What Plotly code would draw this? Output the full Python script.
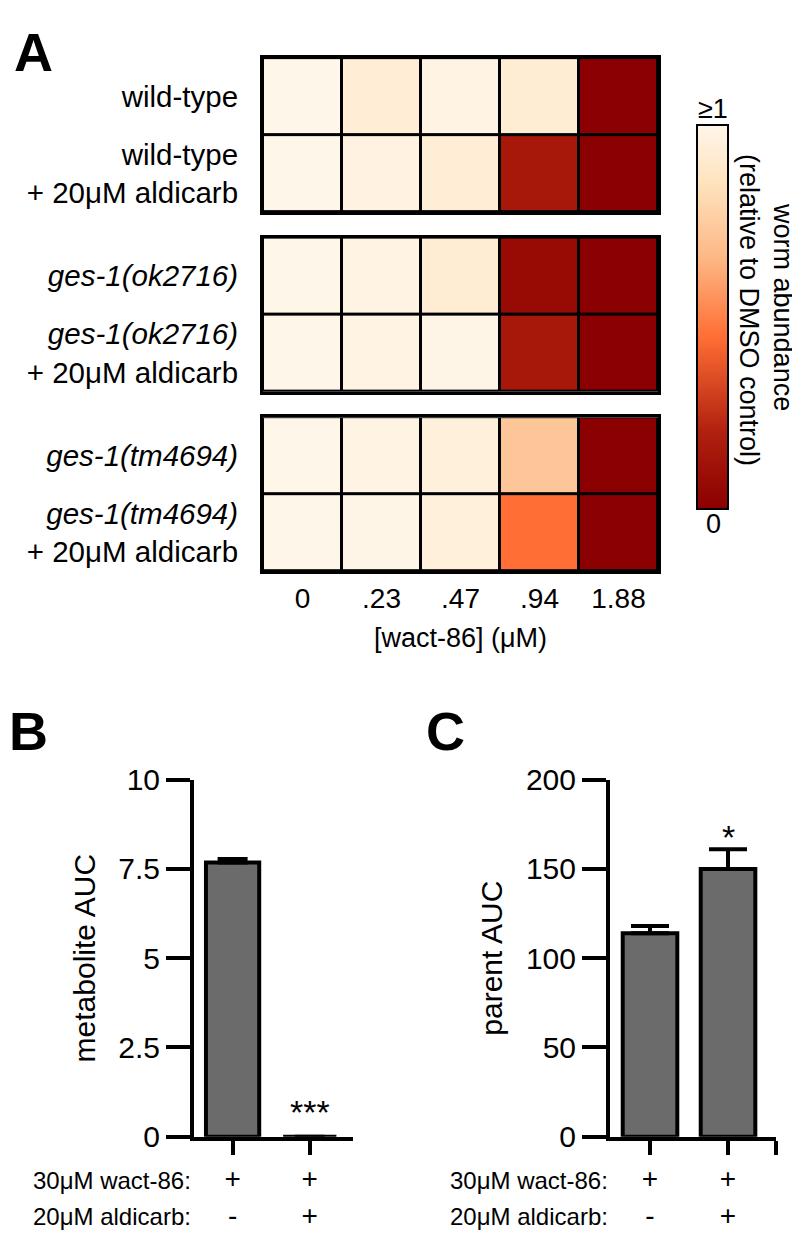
import plotly.graph_objects as go

# ---------------- data ----------------
concentrations = ["0", ".23", ".47", ".94", "1.88"]

group1_labels = ["wild-type", "wild-type<br>+ 20μM aldicarb"]
group2_labels = ["<i>ges-1(ok2716)</i>", "<i>ges-1(ok2716)</i><br>+ 20μM aldicarb"]
group3_labels = ["<i>ges-1(tm4694)</i>", "<i>ges-1(tm4694)</i><br>+ 20μM aldicarb"]

abundance_wt = [[1.00, 0.93, 0.98, 0.92, 0.00],
                [1.00, 0.97, 0.93, 0.15, 0.00]]
abundance_ok2716 = [[1.00, 0.98, 0.92, 0.07, 0.00],
                    [1.00, 0.98, 0.99, 0.15, 0.00]]
abundance_tm4694 = [[1.00, 0.98, 0.95, 0.72, 0.00],
                    [1.00, 0.99, 0.95, 0.45, 0.00]]

conditions = ["+<br>-", "+<br>+"]
metabolite_auc = [7.68, 0.0]
metabolite_sem = [0.10, 0.0]
parent_auc = [114.0, 150.0]
parent_sem = [4.0, 11.0]

FONT = "Liberation Sans, Arial, Helvetica, sans-serif"
W, H = 800, 1239

def px_x(x):
    return x / W

def px_y(y):
    return 1 - y / H

colorscale = [[0.0, "#8B0000"], [0.2, "#B0200F"], [0.45, "#FF6F35"],
              [0.65, "#FDB684"], [0.85, "#FEE3BE"], [1.0, "#FFF6EA"]]

fig = go.Figure()

groups = [(abundance_wt, group1_labels), (abundance_ok2716, group2_labels),
          (abundance_tm4694, group3_labels)]
for i, (z, labels) in enumerate(groups):
    sx = "" if i == 0 else str(i + 1)
    fig.add_trace(go.Heatmap(
        z=z, x=list(range(len(concentrations))), y=list(range(len(labels))),
        coloraxis="coloraxis", xgap=3, ygap=3,
        xaxis="x" + sx, yaxis="y" + sx, hoverinfo="skip"))

# bar charts
fig.add_trace(go.Bar(
    x=[0, 1], y=metabolite_auc, width=0.69,
    marker=dict(color="#6B6B6B", line=dict(color="black", width=4)),
    error_y=dict(type="data", symmetric=False, array=metabolite_sem,
                 arrayminus=[0, 0], color="black", thickness=4, width=15),
    xaxis="x4", yaxis="y4", showlegend=False))
fig.add_trace(go.Bar(
    x=[0, 1], y=parent_auc, width=0.7,
    marker=dict(color="#6B6B6B", line=dict(color="black", width=4)),
    error_y=dict(type="data", symmetric=False, array=parent_sem,
                 arrayminus=[0, 0], color="black", thickness=4, width=19),
    xaxis="x5", yaxis="y5", showlegend=False))

# heatmap group domains (px)
row_h = 79.3
gap = 26
top0 = 34
doms = []
for i in range(3):
    t = top0 + i * (2 * row_h + gap)
    b = t + 2 * row_h
    doms.append([px_y(b), px_y(t)])

hx_dom = [px_x(255), px_x(650)]
layout = dict(
    width=W, height=H,
    margin=dict(l=0, r=0, t=0, b=0),
    paper_bgcolor="white", plot_bgcolor="white",
    font=dict(family=FONT, color="black", size=28),
    showlegend=False,
    coloraxis=dict(
        colorscale=colorscale, cmin=0, cmax=1,
        colorbar=dict(
            x=px_x(689), xanchor="left", xpad=0,
            y=px_y(300), yanchor="middle", ypad=0,
            thickness=31, lenmode="pixels", len=384,
            outlinewidth=2, outlinecolor="black",
            ticks="", showticklabels=False)),
)
for i in range(3):
    sx = "" if i == 0 else str(i + 1)
    labels = groups[i][1]
    layout["xaxis" + sx] = dict(
        domain=hx_dom, anchor="y" + sx, range=[-0.5, 4.5],
        showline=True, mirror=True, linewidth=3, linecolor="black",
        showgrid=False, zeroline=False, ticks="",
        showticklabels=(i == 2), fixedrange=True)
    layout["yaxis" + sx] = dict(
        domain=doms[i], anchor="x" + sx, range=[1.5, -0.5],
        showline=True, mirror=True, linewidth=3, linecolor="black",
        showgrid=False, zeroline=False,
        tickvals=[0, 1], ticktext=labels,
        ticks="outside", ticklen=16, tickcolor="rgba(0,0,0,0)",
        tickfont=dict(size=29.5))
layout["xaxis3"].update(
    tickvals=list(range(len(concentrations))), ticktext=concentrations,
    tickfont=dict(size=28),
    title=dict(text="[wact-86] (μM)", font=dict(size=27), standoff=16))

# bar chart axes
bar_ydom = [px_y(1143), px_y(776)]
common_x = dict(showline=True, linewidth=4, linecolor="black", showgrid=False,
                zeroline=False, ticks="outside", ticklen=14, tickwidth=4,
                tickcolor="black", tickfont=dict(size=28))
common_y = dict(showline=True, linewidth=4, linecolor="black", showgrid=False,
                zeroline=False, ticks="outside", ticklen=24, tickwidth=4,
                tickcolor="black", tickfont=dict(size=30))
layout["xaxis4"] = dict(common_x, domain=[px_x(186), px_x(345)], anchor="y4",
                        range=[-0.5, 1.56], tickvals=[0, 1], ticktext=conditions)
layout["yaxis4"] = dict(common_y, domain=bar_ydom, anchor="x4", range=[0, 10],
                        tickvals=[0, 2.5, 5, 7.5, 10],
                        ticktext=["0", "2.5", "5", "7.5", "10"],
                        title=dict(text="metabolite AUC", font=dict(size=30)))
layout["xaxis5"] = dict(common_x, domain=[px_x(602), px_x(768)], anchor="y5",
                        range=[-0.513, 1.615], tickvals=[0, 1, 1.614],
                        ticktext=[conditions[0], conditions[1], ""])
layout["yaxis5"] = dict(common_y, domain=bar_ydom, anchor="x5", range=[0, 200],
                        tickvals=[0, 50, 100, 150, 200],
                        ticktext=["0", "50", "100", "150", "200"],
                        title=dict(text="parent AUC", font=dict(size=30)))
fig.update_layout(**layout)

# black backgrounds behind heatmaps so cell gaps form the grid lines
for ax in ["", "2", "3"]:
    fig.add_shape(type="rect", xref="x%s domain" % ax, yref="y%s domain" % ax,
                  x0=0, x1=1, y0=0, y1=1, fillcolor="black",
                  line=dict(width=0), layer="below")

ann = []
# panel letters
for letter, x, y in [("A", 25, 28), ("B", 20, 726), ("C", 437, 726)]:
    ann.append(dict(text="<b>%s</b>" % letter, x=px_x(x), y=px_y(y), xref="paper",
                    yref="paper", showarrow=False, xanchor="center",
                    yanchor="middle", font=dict(size=54)))
# colorbar labels
ann.append(dict(text="≥1", x=px_x(705), y=px_y(104), xref="paper", yref="paper",
                showarrow=False, xanchor="center", yanchor="bottom",
                font=dict(size=27)))
ann.append(dict(text="0", x=px_x(705), y=px_y(496), xref="paper", yref="paper",
                showarrow=False, xanchor="center", yanchor="top",
                font=dict(size=27)))
ann.append(dict(text="worm abundance", x=px_x(775), y=px_y(290),
                xref="paper", yref="paper", xanchor="center", yanchor="middle",
                showarrow=False, textangle=90, font=dict(size=27)))
ann.append(dict(text="(relative to DMSO control)", x=px_x(741), y=px_y(293),
                xref="paper", yref="paper", xanchor="center", yanchor="middle",
                showarrow=False, textangle=90, font=dict(size=27)))
# significance
ann.append(dict(text="***", x=1, y=0.7, xref="x4", yref="y4", showarrow=False,
                font=dict(size=34)))
ann.append(dict(text="*", x=1, y=168, xref="x5", yref="y5", showarrow=False,
                font=dict(size=34)))
# condition row labels
for xr in [185, 602]:
    ann.append(dict(text="30μM wact-86:", x=px_x(xr), y=px_y(1188), xref="paper",
                    yref="paper", xanchor="right", yanchor="middle",
                    showarrow=False, font=dict(size=24)))
    ann.append(dict(text="20μM aldicarb:", x=px_x(xr), y=px_y(1225), xref="paper",
                    yref="paper", xanchor="right", yanchor="middle",
                    showarrow=False, font=dict(size=24)))
fig.update_layout(annotations=ann)

fig.write_html("out.html")
